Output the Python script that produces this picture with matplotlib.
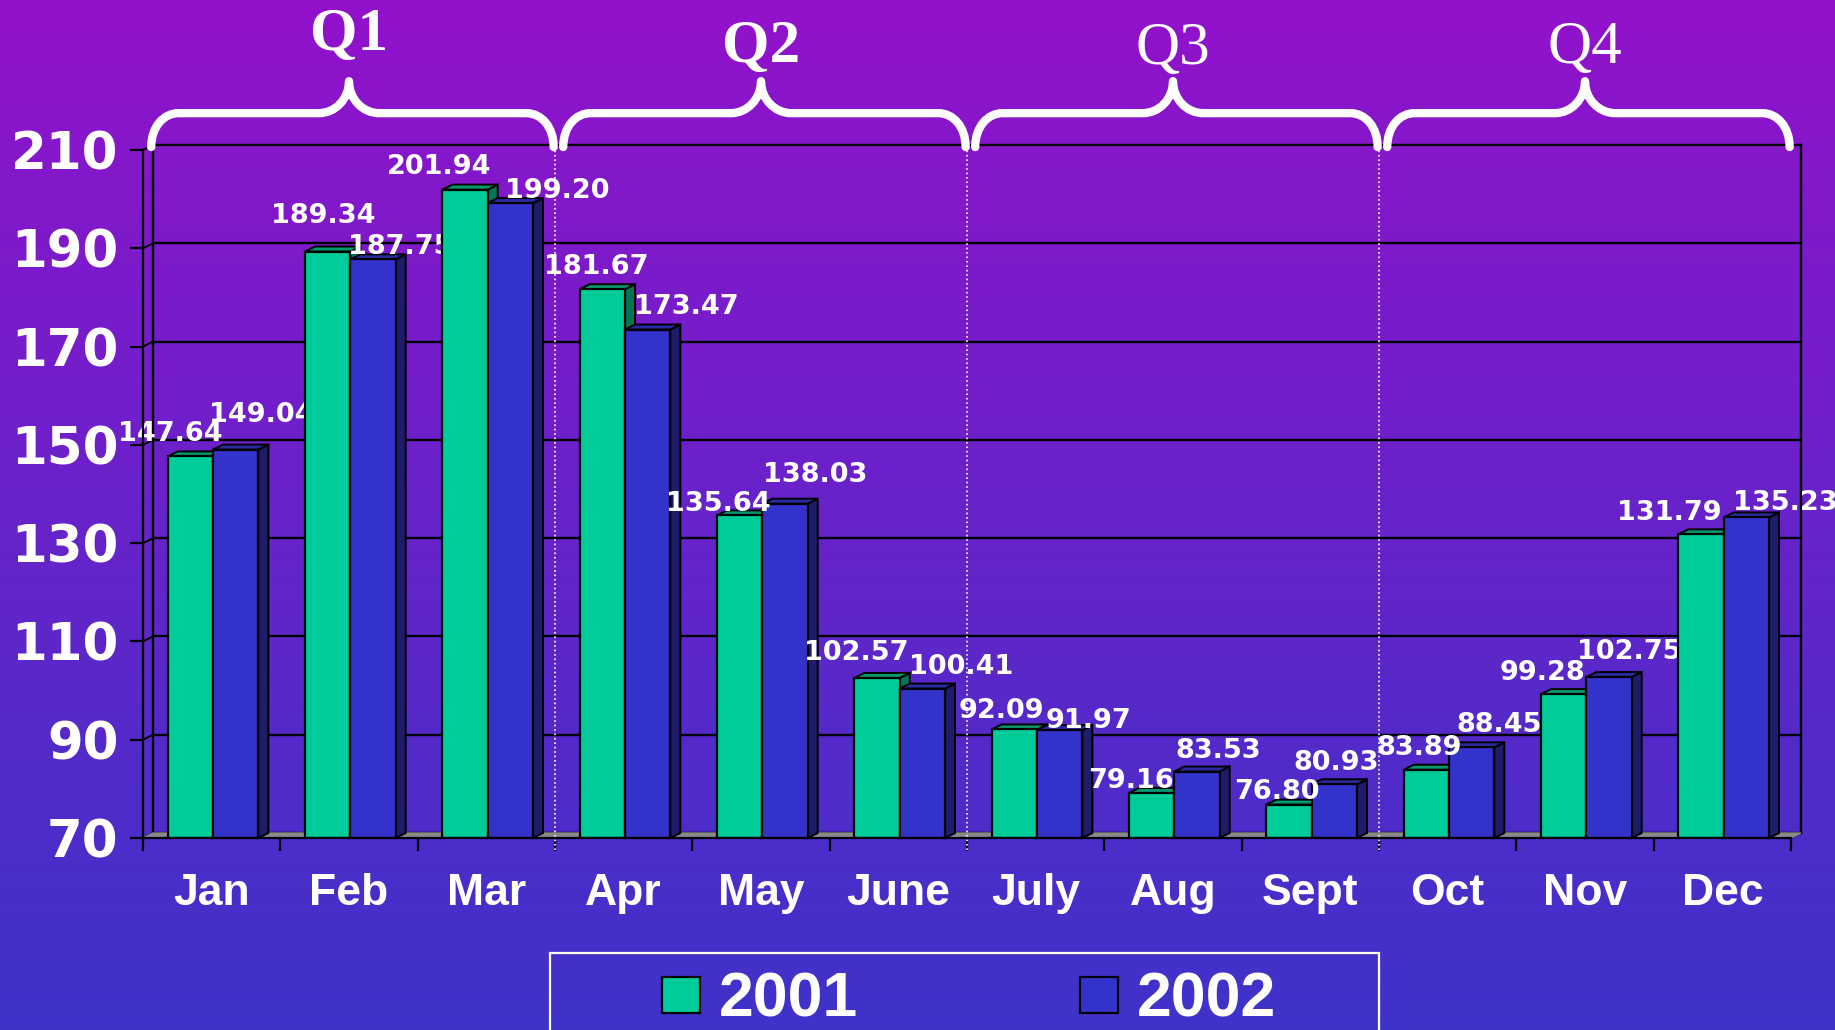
import numpy as np
import matplotlib
matplotlib.use('Agg')
import matplotlib.pyplot as plt
from matplotlib.path import Path
from matplotlib.patches import PathPatch, Rectangle

months = ['Jan', 'Feb', 'Mar', 'Apr', 'May', 'June', 'July', 'Aug', 'Sept', 'Oct', 'Nov', 'Dec']
sales_2001 = [147.64, 189.34, 201.94, 181.67, 135.64, 102.57, 92.09, 79.16, 76.80, 83.89, 99.28, 131.79]
sales_2002 = [149.04, 187.75, 199.20, 173.47, 138.03, 100.41, 91.97, 83.53, 80.93, 88.45, 102.75, 135.23]
series = ['2001', '2002']
quarters = ['Q1', 'Q2', 'Q3', 'Q4']
yticks = [70, 90, 110, 130, 150, 170, 190, 210]

# label nudges (pixels), labels got shuffled around in the original
dx01 = [-20, -4, -26, -6, -21, -21, -13, -21, -12, -7, -21, -32]
dy01 = [22, 36, 23, 22, 11, 25, 18, 12, 13, 22, 21, 21]
dx02 = [26, 27, 47, 39, 30, 39, 29, 21, 2, 27, 20, 39]
dy02 = [35, 12, 12, 23, 29, 22, 9, 21, 21, 22, 25, 14]

green, green_top, green_side = '#00CC99', '#00996F', '#007755'
blue, blue_top, blue_side = '#3333CC', '#2A2AA3', '#1E1C6B'

W, H = 1835, 1030
fig = plt.figure(figsize=(W / 100, H / 100), dpi=100)

# background gradient
bg = fig.add_axes([0, 0, 1, 1], zorder=-10)
top_c = np.array([0x92, 0x12, 0xCB]) / 255
bot_c = np.array([0x3D, 0x33, 0xC9]) / 255
t = np.linspace(0, 1, 256)[:, None]
grad = top_c[None, :] * (1 - t) + bot_c[None, :] * t
bg.imshow(np.repeat(grad[:, None, :], 2, axis=1), aspect='auto', extent=[0, 1, 0, 1])
bg.axis('off')

x0, x1, ytop, ybot = 143, 1791, 150, 838
ax = fig.add_axes([x0 / W, (H - ybot) / H, (x1 - x0) / W, (ybot - ytop) / H])
ax.patch.set_alpha(0)
ax.set_xlim(0, 12)
ax.set_ylim(70, 210)

# depth of the fake 3d in data units
ddx = 10 / ((x1 - x0) / 12)
ddy = 5 / ((ybot - ytop) / 140)

# back wall + left wall
for v in yticks:
    ax.plot([ddx, 12 + ddx], [v + ddy, v + ddy], color='black', lw=1.7, zorder=1, clip_on=False)
    ax.plot([0, ddx], [v, v + ddy], color='black', lw=1.4, zorder=1, clip_on=False)
ax.plot([ddx, ddx], [70 + ddy, 210 + ddy], color='black', lw=1.7, zorder=1, clip_on=False)
ax.plot([12 + ddx, 12 + ddx], [70 + ddy, 210 + ddy], color='black', lw=1.7, zorder=1, clip_on=False)
ax.plot([12, 12 + ddx], [70, 70 + ddy], color='black', lw=1.4, zorder=1, clip_on=False)
ax.fill([0, 12, 12 + ddx, ddx], [70, 70, 70 + ddy, 70 + ddy], color='#8A8A8A', zorder=1.2, clip_on=False)

x = np.arange(len(months))
bw = 0.33
xg = x + 0.18
xb = xg + bw

def box3d(xl, v, ctop, cside, z):
    ax.fill([xl + bw, xl + bw + ddx, xl + bw + ddx, xl + bw], [70, 70 + ddy, v + ddy, v],
            facecolor=cside, edgecolor='black', lw=1.4, zorder=z, clip_on=False)
    ax.fill([xl, xl + ddx, xl + bw + ddx, xl + bw], [v, v + ddy, v + ddy, v],
            facecolor=ctop, edgecolor='black', lw=1.4, zorder=z, clip_on=False)

bars01 = ax.bar(xg, np.array(sales_2001) - 70, bottom=70, width=bw, align='edge', color=green,
                edgecolor='black', lw=1.6)
bars02 = ax.bar(xb, np.array(sales_2002) - 70, bottom=70, width=bw, align='edge', color=blue,
                edgecolor='black', lw=1.6)

# drawn month by month, so a label hides behind the next month's bars
for i in range(len(months)):
    z = 2 + 0.1 * i
    box3d(xg[i], sales_2001[i], green_top, green_side, z + 0.01)
    bars01[i].set_zorder(z + 0.02)
    box3d(xb[i], sales_2002[i], blue_top, blue_side, z + 0.03)
    bars02[i].set_zorder(z + 0.04)
    ax.annotate('%.2f' % sales_2001[i], xy=(xg[i] + bw / 2, sales_2001[i]), xytext=(dx01[i], dy01[i]),
                textcoords='offset pixels', ha='center', va='center', color='white',
                fontsize=19.5, fontweight='bold', zorder=z + 0.05, annotation_clip=False)
    ax.annotate('%.2f' % sales_2002[i], xy=(xb[i] + bw / 2, sales_2002[i]), xytext=(dx02[i], dy02[i]),
                textcoords='offset pixels', ha='center', va='center', color='white',
                fontsize=19.5, fontweight='bold', zorder=z + 0.06, annotation_clip=False)

# quarter separators
for q in [3, 6, 9]:
    ax.plot([q, q], [67.5, 212], color='white', ls=':', lw=1.2, zorder=6, clip_on=False)

# axes
for s in ['top', 'right']:
    ax.spines[s].set_visible(False)
for s in ['left', 'bottom']:
    ax.spines[s].set_linewidth(1.6)
    ax.spines[s].set_zorder(7)
ax.set_yticks(yticks)
ax.set_yticklabels([str(v) for v in yticks], fontsize=37, fontweight='bold', color='white')
ax.tick_params(axis='y', length=9.5, width=1.6, pad=8)
ax.set_xticks(np.arange(13))
ax.set_xticklabels([])
ax.set_xticks(x + 0.5, minor=True)
ax.set_xticklabels(months, minor=True, fontsize=32, fontweight='bold', color='white',
                   family='Liberation Sans')
ax.tick_params(axis='x', which='major', length=9, width=1.6)
ax.tick_params(axis='x', which='minor', length=0, pad=25)

# braces + quarter names
y_end, y_bar, y_tip = 210.6, 217.5, 224.0
rx, rt = 0.2, 0.22
q_y = [233.5, 231.0, 230.6, 230.8]
q_w = ['bold', 'bold', 'normal', 'normal']
for k, name in enumerate(quarters):
    a, b = 3 * k + 0.06, 3 * k + 2.99
    m = 3 * k + 1.5
    verts = [(a, y_end), (a, y_end + 0.6 * (y_bar - y_end)), (a + 0.45 * rx, y_bar), (a + rx, y_bar),
             (m - rt, y_bar),
             (m - 0.45 * rt, y_bar), (m, y_bar + 0.45 * (y_tip - y_bar)), (m, y_tip),
             (m, y_bar + 0.45 * (y_tip - y_bar)), (m + 0.45 * rt, y_bar), (m + rt, y_bar),
             (b - rx, y_bar),
             (b - 0.45 * rx, y_bar), (b, y_end + 0.6 * (y_bar - y_end)), (b, y_end)]
    codes = [Path.MOVETO, Path.CURVE4, Path.CURVE4, Path.CURVE4, Path.LINETO,
             Path.CURVE4, Path.CURVE4, Path.CURVE4, Path.CURVE4, Path.CURVE4, Path.CURVE4,
             Path.LINETO, Path.CURVE4, Path.CURVE4, Path.CURVE4]
    ax.add_patch(PathPatch(Path(verts, codes), facecolor='none', edgecolor='white', lw=6,
                           capstyle='round', joinstyle='round', clip_on=False, zorder=8))
    ax.text(m, q_y[k], name, ha='center', va='center', color='white', fontsize=44,
            fontweight=q_w[k], family='Liberation Serif', zorder=8)

# legend box, runs off the bottom edge
fig.patches.append(Rectangle((550 / W, -0.05), 829 / W, 0.05 + (H - 953) / H, transform=fig.transFigure,
                             facecolor='none', edgecolor='white', lw=1.6))
for name, c, sx in [(series[0], green, 662), (series[1], blue, 1080)]:
    fig.patches.append(Rectangle((sx / W, (H - 1013) / H), 38 / W, 36 / H, transform=fig.transFigure,
                                 facecolor=c, edgecolor='black', lw=1.6))
    fig.text((sx + 57) / W, (H - 1000) / H, name, ha='left', va='center', color='white',
             fontsize=45, fontweight='bold', family='Liberation Sans')

fig.savefig('out.png', dpi=100)
